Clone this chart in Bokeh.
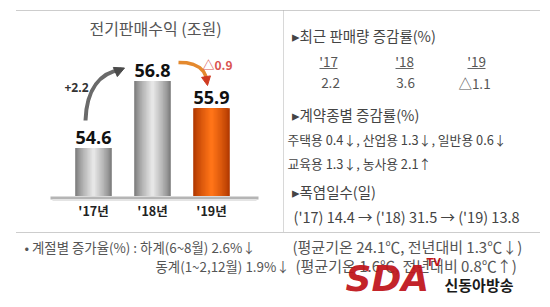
from bokeh.plotting import figure
from bokeh.models import Range1d, Arrow, NormalHead
from bokeh.core.properties import value
from bokeh.embed import file_html
from bokeh.resources import INLINE

# ---- data ----
years = ["'17년", "'18년", "'19년"]
revenue = [54.6, 56.8, 55.9]          # 전기판매수익 (조원)
rev_labels = ["54.6", "56.8", "55.9"]
change_labels = ["+2.2", "△0.9"]
sales_years = ["'17", "'18", "'19"]
sales_growth = ["2.2", "3.6", "△1.1"]
contract_lines = ["주택용 0.4↓, 산업용 1.3↓, 일반용 0.6↓", "교육용 1.3↓, 농사용 2.1↑"]
heat_line = "('17) 14.4 → ('18) 31.5 → ('19) 13.8"
season_lines = ["• 계절별 증가율(%) : 하계(6~8월) 2.6%↓", "(평균기온 24.1℃, 전년대비 1.3℃↓)",
                "동계(1~2,12월) 1.9%↓", "(평균기온 1.6℃, 전년대비 0.8℃↑)"]
base_value = 53.0

FONT = value("Noto Sans CJK KR")

p = figure(width=550, height=307, x_range=Range1d(0, 550), y_range=Range1d(307, 0),
           x_axis_type=None, y_axis_type=None, output_backend="svg",
           toolbar_location=None, min_border=0)
p.grid.visible = False
p.outline_line_color = None
p.background_fill_color = "white"

# bar scales (pixel geometry of the bar panel)
cx0, step = 93.0, 59.0
p.extra_x_ranges = {"bx": Range1d(-cx0 / step, (550 - cx0) / step)}
ppu = 30.45
y_base_px = 195.5
p.extra_y_ranges = {"by": Range1d(53.02 - (307 - y_base_px) / ppu, 53.02 + y_base_px / ppu)}

xs = list(range(len(years)))

def lerp(c1, c2, t):
    a = [int(c1[i:i + 2], 16) for i in (1, 3, 5)]
    b = [int(c2[i:i + 2], 16) for i in (1, 3, 5)]
    return "#%02x%02x%02x" % tuple(int(a[k] + (b[k] - a[k]) * t) for k in range(3))

# dotted frame lines
p.line([16, 540], [10, 10], line_color="#9a9a9a", line_dash="1 1", line_width=1)
p.line([16, 540], [232, 232], line_color="#9a9a9a", line_dash="1 1", line_width=1)
p.line([283, 283], [10, 232], line_color="#b0b0b0", line_dash="1 1", line_width=1)

# floor
p.line([50, 258], [197.5, 197.5], line_color="#b5b5b5", line_width=3)
p.line([52, 256], [199.5, 199.5], line_color="#e4e4e4", line_width=2)

# cylinder bars
bw = 0.62
N = 14
for i, (x, v) in enumerate(zip(xs, revenue)):
    if i == 2:
        edge, center = "#b03800", "#ff7418"
    else:
        edge, center = "#7c7c7c", "#e6e6e6"
    for k in range(N):
        t = k / (N - 1)
        p.vbar(x=[x], top=[v], bottom=base_value + 0.02, width=bw * (1 - 0.92 * t),
               fill_color=lerp(edge, center, t ** 0.8), line_color=None,
               x_range_name="bx", y_range_name="by")

# value labels over bars
p.text(x=xs, y=revenue, text=rev_labels, x_range_name="bx", y_range_name="by",
       text_align="center", text_baseline="bottom", y_offset=-4,
       text_font=value("Open Sans"), text_font_style="bold", text_font_size="18px",
       text_color="#111111")

# year labels
p.text(x=xs, y=[base_value] * 3, text=years, x_range_name="bx", y_range_name="by",
       text_align="center", text_baseline="middle", y_offset=14,
       text_font=FONT, text_font_style="bold", text_font_size="12.5px", text_color="#222222")

# title
p.text(x=[155], y=[27], text=["전기판매수익 (조원)"], text_align="center", text_baseline="middle",
       text_font=FONT, text_font_size="16px", text_color="#555555")

# change arrows
p.bezier(x0=[85], y0=[120], x1=[121], y1=[69], cx0=[86], cy0=[88], cx1=[100], cy1=[72],
         line_color="#6a6a6a", line_width=4)
p.add_layout(Arrow(end=NormalHead(size=10, fill_color="#4a4a4a", line_color="#4a4a4a"),
                   x_start=116, y_start=71, x_end=124, y_end=67.5, line_color="#4a4a4a", line_width=3))
p.line(x=[178, 186, 193, 199, 203, 205.5], y=[62, 62.3, 64, 67, 71, 76],
       line_color="#e4892e", line_width=3.5)
p.add_layout(Arrow(end=NormalHead(size=9, fill_color="#d03a20", line_color="#d03a20"),
                   x_start=205.5, y_start=76, x_end=207, y_end=85, line_color="#d03a20", line_width=3))
p.text(x=[76], y=[87], text=[change_labels[0]], text_align="center", text_baseline="middle",
       text_font=value("Open Sans"), text_font_style="bold", text_font_size="12px", text_color="#333333")
p.text(x=[217], y=[64], text=[change_labels[1]], text_align="center", text_baseline="middle",
       text_font=FONT, text_font_style="bold", text_font_size="12px", text_color="#d9534f")

# right panel
hdr = dict(text_align="left", text_baseline="middle", text_font=FONT, text_font_size="14.5px",
           text_color="#444444")
p.text(x=[291], y=[35], text=["▸최근 판매량 증감률(%)"], **hdr)
p.text(x=[291], y=[114], text=["▸계약종별 증감률(%)"], **hdr)
p.text(x=[291], y=[191], text=["▸폭염일수(일)"], **hdr)

sx = [328, 404, 476]
p.text(x=sx, y=[60] * 3, text=sales_years, text_align="center", text_baseline="middle",
       text_font=FONT, text_font_size="13.5px", text_color="#555555")
p.segment(x0=[s - 9 for s in sx], y0=[68] * 3, x1=[s + 9 for s in sx], y1=[68] * 3,
          line_color="#666666", line_width=1)
p.text(x=[330, 405, 474], y=[82] * 3, text=sales_growth, text_align="center", text_baseline="middle",
       text_font=FONT, text_font_size="13.5px", text_color="#555555")

body = dict(text_align="left", text_baseline="middle", text_font=FONT, text_font_size="12.8px",
            text_color="#444444")
p.text(x=[287], y=[139], text=[contract_lines[0]], **body)
p.text(x=[287], y=[163], text=[contract_lines[1]], **body)
p.text(x=[293], y=[216], text=[heat_line], text_align="left", text_baseline="middle",
       text_font=FONT, text_font_size="14.5px", text_color="#444444")

# bottom notes
note_a = dict(text_align="left", text_baseline="middle", text_font=FONT, text_font_size="13.4px",
              text_color="#555555")
note_b = dict(text_align="left", text_baseline="middle", text_font=FONT, text_font_size="15px",
              text_color="#555555")
p.text(x=[24], y=[246], text=[season_lines[0]], **note_a)
p.text(x=[292], y=[246], text=[season_lines[1]], **note_b)
p.text(x=[155], y=[265], text=[season_lines[2]], **note_a)
p.text(x=[295], y=[265], text=[season_lines[3]], **note_b)

# watermark
p.text(x=[345], y=[278], text=["SDA"], text_align="left", text_baseline="middle",
       text_font=value("DejaVu Sans"), text_font_style="bold italic", text_font_size="36px",
       text_color="#c0161c", text_alpha=0.95)
p.text(x=[426], y=[262], text=["TV"], text_align="left", text_baseline="middle",
       text_font=value("DejaVu Sans"), text_font_style="bold", text_font_size="10px", text_color="#c0161c")
p.text(x=[444], y=[284], text=["신동아방송"], text_align="left", text_baseline="middle",
       text_font=FONT, text_font_style="bold", text_font_size="15px", text_color="#1a1a1a")

open("out.html", "w").write(file_html(p, INLINE))
